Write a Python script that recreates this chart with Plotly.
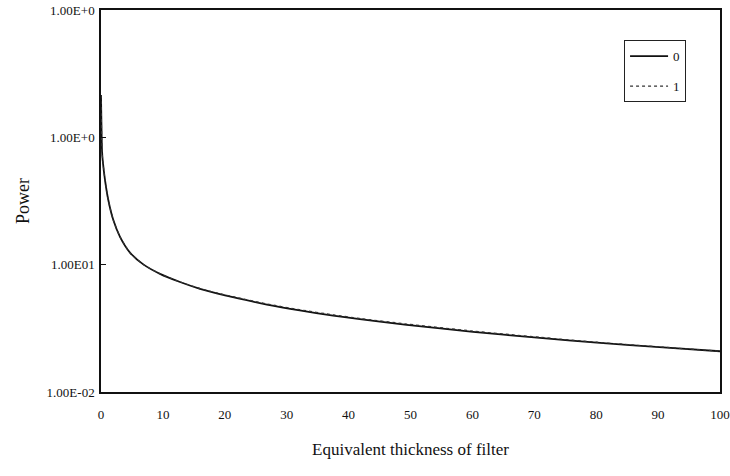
import plotly.graph_objects as go

# Equivalent thickness of filter
thickness = [0, 0.16, 0.27, 0.65, 1.18, 1.99, 3.07, 4.68, 6.83, 9.53, 12.76, 16.0,
             18.7, 21.3, 26.8, 32.1, 37.5, 41.8, 49.4, 60.1, 70.9, 80.1, 90.8, 100]
# Power, series "0"
power_0 = [2.15, 0.794, 0.664, 0.462, 0.322, 0.224, 0.1655, 0.1245, 0.1005, 0.0847,
           0.0731, 0.0646, 0.0596, 0.0556, 0.0486, 0.0437, 0.0398, 0.0373, 0.0337,
           0.0297, 0.0266, 0.0244, 0.0224, 0.0209]
# Power, series "1"
power_1 = [2.15, 0.794, 0.664, 0.462, 0.322, 0.224, 0.1655, 0.1245, 0.1005, 0.0848,
           0.0733, 0.0649, 0.0600, 0.0561, 0.0492, 0.0443, 0.0404, 0.0378, 0.0342,
           0.0301, 0.0269, 0.0246, 0.0225, 0.0209]

y_tickvals = [0.01, 0.1, 1, 10]
y_ticktext = ["1.00E-02", "1.00E01", "1.00E+0", "1.00E+0"]
x_tickvals = [0, 10, 20, 30, 40, 50, 60, 70, 80, 90, 100]

FONT = "Liberation Serif"

fig = go.Figure()
fig.add_trace(go.Scatter(x=thickness, y=power_0, mode="lines", name="0",
                         legendgroup="a",
                         line=dict(color="#111111", width=1.8, shape="spline", smoothing=0.6)))
fig.add_trace(go.Scatter(x=thickness, y=power_1, mode="lines", name="1",
                         legendgroup="b",
                         line=dict(color="#333333", width=1.2, dash="dot", shape="spline", smoothing=0.6)))

fig.update_layout(
    width=730, height=476,
    margin=dict(l=101, r=10, t=10, b=84, autoexpand=False),
    paper_bgcolor="white", plot_bgcolor="white",
    font=dict(family=FONT, color="#111111", size=13),
    showlegend=True,
    legend=dict(x=0.845, y=0.921, xanchor="left", yanchor="top",
                bordercolor="#222222", borderwidth=1, bgcolor="white",
                font=dict(family=FONT, size=13), tracegroupgap=10,
                itemwidth=38),
    xaxis=dict(range=[0, 100], tickvals=x_tickvals, ticks="", showgrid=False,
               zeroline=False, showline=True, linecolor="#111111", linewidth=1.5,
               mirror=True, ticklabelstandoff=10, automargin=False,
               title=dict(text="Equivalent thickness of filter", font=dict(size=17), standoff=22)),
    yaxis=dict(type="log", range=[-2, 1], tickvals=y_tickvals, ticktext=y_ticktext,
               ticks="inside", ticklen=5, tickcolor="#111111", showgrid=False,
               zeroline=False, showline=True, linecolor="#111111", linewidth=1.5,
               mirror=True, ticklabelstandoff=2, automargin=False,
               title=dict(text="Power", font=dict(size=18), standoff=12)),
)

# remove the default 8px page margin so the figure sits at the window's corner
fig.write_html("out.html", post_script="document.body.style.margin='0';",
               config={"displayModeBar": False})
